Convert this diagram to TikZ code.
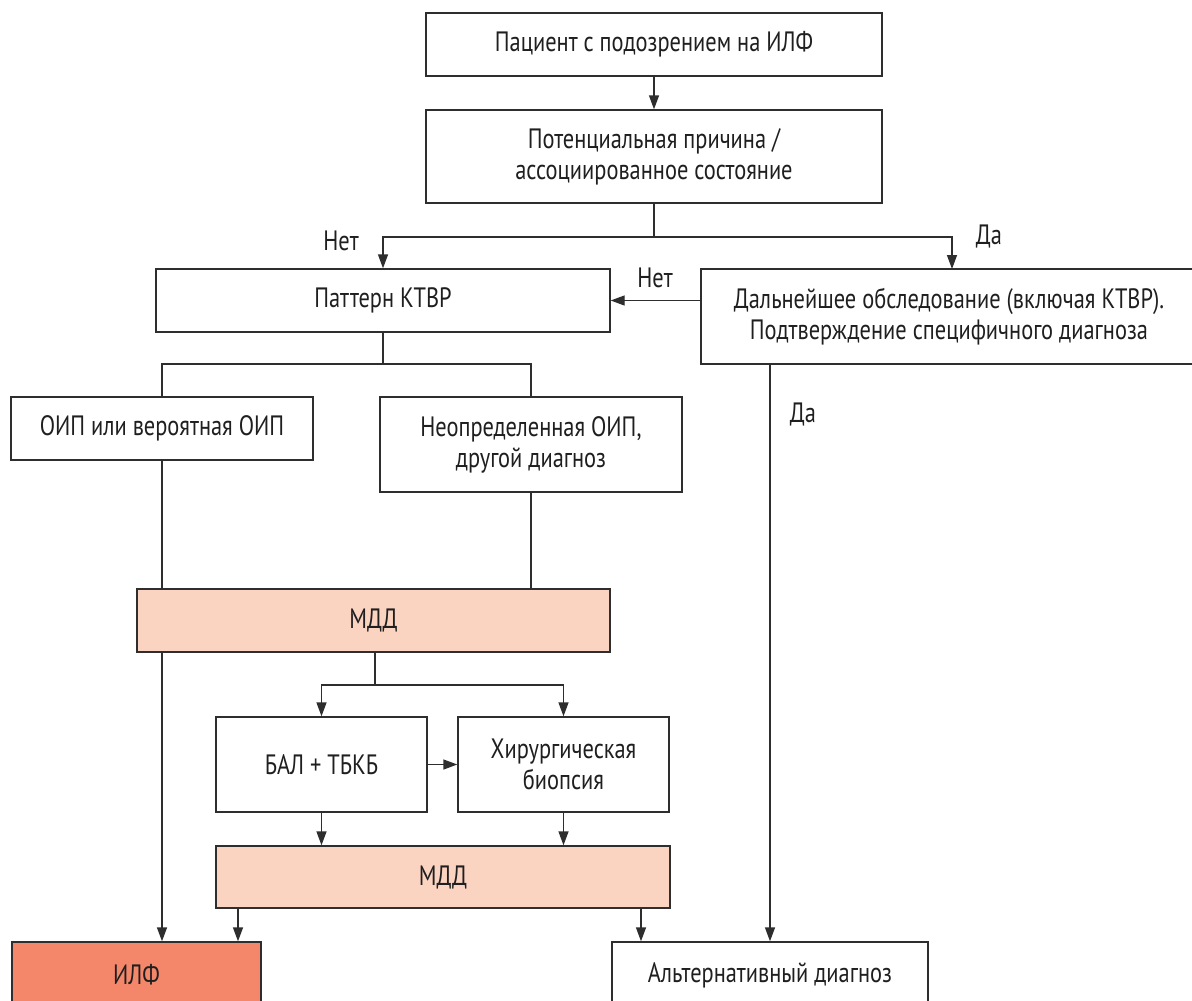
\documentclass[tikz,border=0pt]{standalone}
\usepackage{fontspec}
\setmainfont[FakeStretch=0.80]{PT Sans}
\usetikzlibrary{arrows.meta,calc}
\definecolor{peach}{HTML}{FBD3C1}
\definecolor{ilfcol}{HTML}{F4866A}
\definecolor{linecol}{HTML}{2E2E2E}
\begin{document}
\begin{tikzpicture}[x=1pt,y=-1pt,
  box/.style={draw=linecol,line width=1.4pt,rectangle,align=center,inner sep=0pt,
    font=\fontsize{28}{31}\selectfont,text=black!88},
  conn/.style={draw=linecol,line width=1.4pt},
  arr/.style={conn,-{Triangle[length=14pt,width=10pt]}},
  lbl/.style={font=\fontsize{28}{31}\selectfont,text=black!88,inner sep=0pt}]
\useasboundingbox (0,0) rectangle (1192,1001);
\fill[white] (0,0) rectangle (1192,1001);
% boxes
\node[box,minimum width=456pt,minimum height=63pt] (p1) at (654,44.5) {Пациент с подозрением на ИЛФ};
\node[box,minimum width=456pt,minimum height=93pt] (p2) at (654,156.5) {Потенциальная причина /\\ассоциированное состояние};
\node[box,minimum width=454pt,minimum height=63pt] (pat) at (383,300.5) {Паттерн КТВР};
\node[box,minimum width=496pt,minimum height=95pt] (dal) at (949,316.5) {Дальнейшее обследование (включая КТВР).\\Подтверждение специфичного диагноза};
\node[box,minimum width=302pt,minimum height=63pt] (oip) at (162,428.5) {ОИП или вероятная ОИП};
\node[box,minimum width=302pt,minimum height=95pt] (neo) at (531,444.5) {Неопределенная ОИП,\\другой диагноз};
\node[box,fill=peach,minimum width=473pt,minimum height=63pt] (mdd1) at (373.5,620.5) {МДД};
\node[box,minimum width=211pt,minimum height=95pt] (bal) at (321.5,764.5) {БАЛ + ТБКБ};
\node[box,minimum width=211pt,minimum height=95pt] (hir) at (563.5,764.5) {Хирургическая\\биопсия};
\node[box,fill=peach,minimum width=454pt,minimum height=62pt] (mdd2) at (443,877) {МДД};
\node[box,fill=ilfcol,minimum width=249pt,minimum height=66pt] (ilf) at (136.5,975) {ИЛФ};
\node[box,minimum width=316pt,minimum height=66pt] (alt) at (770,975) {Альтернативный диагноз};
% junction coordinates
\coordinate (j1) at (654,237);
\coordinate (j2) at (383,364);
\coordinate (j3) at (375,685);
% connectors
\draw[arr] (p1.south) -- (p2.north);
\draw[conn] (p2.south) -- (j1);
\draw[arr] (j1) -| (pat.north);
\draw[arr] (j1) -| (952,269) coordinate (dn);
\draw[arr] (dal.west |- pat.east) -- (pat.east);
\draw[conn] (pat.south) -- (j2);
\draw[conn] (j2) -| (oip.north);
\draw[conn] (j2) -| (neo.north);
\draw[conn] (oip.south) -- (oip.south |- mdd1.north);
\draw[conn] (neo.south) -- (neo.south |- mdd1.north);
\draw[arr] (oip.south |- mdd1.south) -- (oip.south |- ilf.north);
\draw[conn] (mdd1.south -| j3) -- (j3);
\draw[arr] (j3) -| (bal.north);
\draw[arr] (j3) -| (hir.north);
\draw[arr] (bal.east) -- (hir.west);
\draw[arr] (bal.south) -- (bal.south |- mdd2.north);
\draw[arr] (hir.south) -- (hir.south |- mdd2.north);
\draw[arr] (mdd2.south -| 238,0) -- (ilf.north -| 238,0);
\draw[arr] (mdd2.south -| 641,0) -- (alt.north -| 641,0);
\draw[arr] (dal.south -| alt.north) -- (alt.north);
% labels
\node[lbl] (n1) at (341,241) {Нет};
\node[lbl] (n2) at (655,278) {Нет};
\node[lbl] (d1) at (989,237) {Да};
\node[lbl] (d2) at (803,415) {Да};
\end{tikzpicture}
\end{document}
